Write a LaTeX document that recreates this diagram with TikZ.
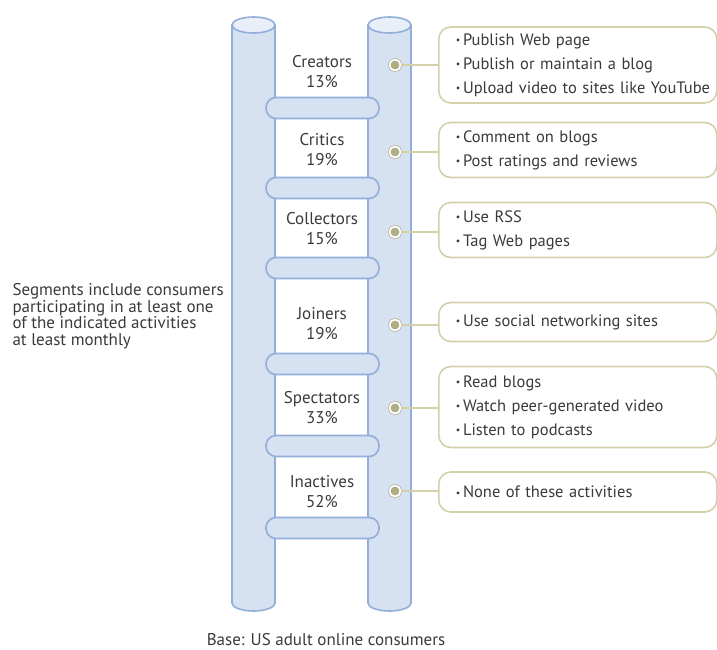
\documentclass[tikz,border=0pt]{standalone}
\usepackage{fontspec}
\setmainfont{PT Sans}
\usepackage{tikz}
\usetikzlibrary{positioning}

\definecolor{poleblue}{HTML}{D6E2F2}
\definecolor{poletop}{HTML}{E8EFF9}
\definecolor{poleedge}{HTML}{93AED9}
\definecolor{beige}{HTML}{D3D0AA}
\definecolor{olivedot}{HTML}{AFAE80}
\definecolor{inkgray}{HTML}{3A3A3A}

\newcommand{\bul}{\hspace*{14pt}{\scalebox{0.6}{\raisebox{0.25ex}{•}}}\,}

\begin{document}
\begin{tikzpicture}[x=1pt,y=1pt,
  pole/.style={fill=poleblue,draw=poleedge,line width=1.6pt},
  rung/.style={fill=poleblue,draw=poleedge,line width=1.6pt,rounded corners=10pt,
    minimum width=113pt,minimum height=21pt,inner sep=0pt},
  seg/.style={align=center,text=inkgray,font=\fontsize{17}{20}\selectfont},
  dot/.style={circle,fill=olivedot,draw=beige!80!black,double=white,double distance=1.8pt,
    line width=0.6pt,minimum size=11pt,inner sep=0pt},
  bubble/.style={draw=beige,line width=1.6pt,rounded corners=12pt,anchor=west,align=left,
    text width=272pt,inner xsep=3pt,inner ysep=0pt,text=inkgray,
    font=\fontsize{16.5}{24}\selectfont},
  link/.style={draw=beige,line width=1.5pt},
  note/.style={align=left,text=inkgray,font=\fontsize{17}{16.5}\selectfont}]
  \useasboundingbox (0,0) rectangle (717,-650);

  % poles
  \draw[pole] (232,-25) -- (232,-603) arc[start angle=180,end angle=360,x radius=21.5,y radius=8] -- (275,-25);
  \draw[pole,fill=poletop] (253.5,-25) ellipse[x radius=21.5,y radius=8];
  \draw[pole] (368,-25) -- (368,-603) arc[start angle=180,end angle=360,x radius=21.5,y radius=8] -- (411,-25);
  \draw[pole,fill=poletop] (389.5,-25) ellipse[x radius=21.5,y radius=8];

  % rungs
  \node[rung] (r1) at (322.5,-108) {};
  \node[rung] (r2) at (322.5,-188) {};
  \node[rung] (r3) at (322.5,-268) {};
  \node[rung] (r4) at (322.5,-364) {};
  \node[rung] (r5) at (322.5,-446) {};
  \node[rung] (r6) at (322.5,-528) {};

  % segments
  \node[seg] (creators) at (322,-72) {Creators\\13\%};
  \node[seg] (critics) at (322,-150) {Critics\\19\%};
  \node[seg] (collectors) at (322,-229) {Collectors\\15\%};
  \node[seg] (joiners) at (322,-324) {Joiners\\19\%};
  \node[seg] (spectators) at (322,-408) {Spectators\\33\%};
  \node[seg] (inactives) at (322,-492) {Inactives\\52\%};

  % activities
  \node[bubble,minimum height=76pt] (b1) at (438,-65) {\bul Publish Web page\\\bul Publish or maintain a blog\\\bul Upload video to sites like YouTube};
  \node[bubble,minimum height=55pt] (b2) at (438,-150) {\bul Comment on blogs\\\bul Post ratings and reviews};
  \node[bubble,minimum height=55pt] (b3) at (438,-230) {\bul Use RSS\\\bul Tag Web pages};
  \node[bubble,minimum height=39pt] (b4) at (438,-322) {\bul Use social networking sites};
  \node[bubble,minimum height=81pt] (b5) at (438,-407) {\bul Read blogs\\\bul Watch peer-generated video\\\bul Listen to podcasts};
  \node[bubble,minimum height=40pt] (b6) at (438,-492) {\bul None of these activities};

  \node[dot] (d1) at (395,-65) {};
  \node[dot] (d2) at (395,-152) {};
  \node[dot] (d3) at (395,-232) {};
  \node[dot] (d4) at (395,-325) {};
  \node[dot] (d5) at (395,-408) {};
  \node[dot] (d6) at (395,-491) {};

  \draw[link] (d1) -- (d1 -| b1.west);
  \draw[link] (d2) -- (d2 -| b2.west);
  \draw[link] (d3) -- (d3 -| b3.west);
  \draw[link] (d4) -- (d4 -| b4.west);
  \draw[link] (d5) -- (d5 -| b5.west);
  \draw[link] (d6) -- (d6 -| b6.west);

  % notes
  \node[note,anchor=west] (scope) at (9,-316) {Segments include consumers\\participating in at least one\\of the indicated activities\\at least monthly};
  \node[note] (base) at (326,-640) {Base: US adult online consumers};
\end{tikzpicture}
\end{document}
